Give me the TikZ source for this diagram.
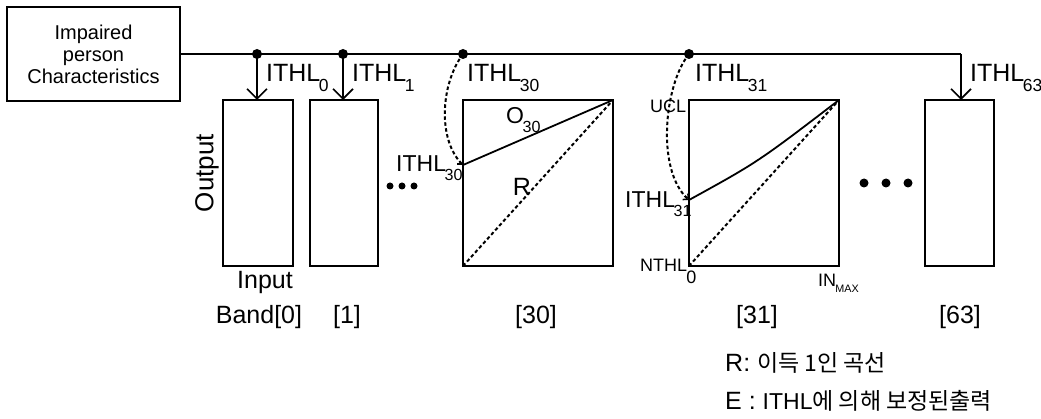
\documentclass[tikz,border=0pt]{standalone}
\usepackage{fontspec}
\usepackage{graphicx}
\setmainfont{Liberation Sans}
\newfontfamily\krfont{Noto Sans CJK KR}
\usetikzlibrary{arrows.meta}
\newcommand\fs[1]{\fontsize{#1}{#1}\selectfont}
\newcommand\lsub[1]{\kern-0.06em\raisebox{-0.38em}{\scalebox{0.7}{#1}}}
\begin{document}
\begin{tikzpicture}[x=1pt,y=-1pt,
  box/.style={draw, line width=1.6pt, inner sep=0pt, outer sep=0pt, anchor=north west, minimum height=166pt},
  wire/.style={line width=1.6pt},
  arr/.style={line width=1.6pt, -{Straight Barb[length=10pt,width=20pt,line width=1.6pt]}},
  dcurve/.style={line width=2pt, dash pattern=on 3.5pt off 2.5pt, -{Straight Barb[length=4pt,width=8pt,line width=1.5pt]}},
  dline/.style={line width=2pt, dash pattern=on 3.5pt off 2.5pt},
  jdot/.style={circle, fill, inner sep=0pt, minimum size=10pt},
  sdot/.style={circle, fill, inner sep=0pt, minimum size=7pt},
  bdot/.style={circle, fill, inner sep=0pt, minimum size=9pt},
  lbl/.style={inner sep=0pt, font=\fs{25}},
  slbl/.style={inner sep=0pt, font=\fs{23}},
  tlbl/.style={inner sep=0pt, font=\fs{18}}
]
\useasboundingbox (0,0) rectangle (1041,419);

% source box
\node[draw, line width=1.6pt, minimum width=173pt, minimum height=94pt, align=center, font=\fs{20}, inner sep=0pt] (imp) at (93.5,54) {Impaired\\[2pt]person\\[2pt]Characteristics};

% band boxes
\node[box, minimum width=70pt] (b0) at (223,100) {};
\node[box, minimum width=68pt] (b1) at (310,100) {};
\node[box, minimum width=150pt] (b30) at (463,100) {};
\node[box, minimum width=150pt] (b31) at (689,100) {};
\node[box, minimum width=69pt] (b63) at (925,100) {};

% junctions
\node[jdot] (j0) at (257,54) {};
\node[jdot] (j1) at (343,54) {};
\node[jdot] (j30) at (463,54) {};
\node[jdot] (j31) at (689,54) {};
\coordinate (c63) at (961,54);

\draw[wire] (imp.east) -- (c63);
\draw[arr] (c63) -- (c63 |- b63.north);
\draw[arr] (j0.center) -- (j0 |- b0.north);
\draw[arr] (j1.center) -- (j1 |- b1.north);

% curves inside boxes
\coordinate (o30s) at (463,165);
\coordinate (o31s) at (689,200);
\draw[line width=1.8pt] (o30s) -- (b30.north east);
\draw[dline] (b30.south west) -- (b30.north east);
\draw[line width=1.8pt] (o31s) .. controls (758,162) .. (b31.north east);
\draw[dline] (b31.south west) -- (b31.north east);

% dashed curved arrows
\draw[dcurve] (j30.center) .. controls (440,85) and (438,140) .. (o30s);
\draw[dcurve] (j31.center) .. controls (664,85) and (656,170) .. (o31s);

% top labels
\node[lbl, anchor=base west] (t0) at (266,82) {ITHL\lsub{0}};
\node[lbl, anchor=base west] (t1) at (352,82) {ITHL\lsub{1}};
\node[lbl, anchor=base west] (t30) at (467,82) {ITHL\lsub{30}};
\node[lbl, anchor=base west] (t31) at (695,82) {ITHL\lsub{31}};
\node[lbl, anchor=base west] (t63) at (970,82) {ITHL\lsub{63}};

% axis labels
\node[font=\fs{26}, rotate=90, inner sep=0pt] (out) at (207,173) {Output};
\node[font=\fs{25}, inner sep=0pt] (inp) at (265,282) {Input};

% small dots
\node[sdot] (d1) at (390,186) {};
\node[sdot] (d2) at (402,186) {};
\node[sdot] (d3) at (414,186) {};
\node[bdot] (e1) at (864,183) {};
\node[bdot] (e2) at (886,183) {};
\node[bdot] (e3) at (908,183) {};

% box 30 labels
\node[slbl, anchor=base west] (l30) at (396,172) {ITHL\lsub{30}};
\node[inner sep=0pt, font=\fs{23}, anchor=base west] (o30) at (506,124) {O\lsub{30}};
\node[inner sep=0pt, font=\fs{25}] (rl) at (522,187) {R};

% box 31 labels
\node[tlbl, anchor=base west] (ucl) at (650,113) {UCL};
\node[slbl, anchor=base west] (l31) at (625,208) {ITHL\lsub{31}};
\node[tlbl, anchor=base west] (nthl) at (640,272) {NTHL\kern-0.05em\raisebox{-0.65em}{0}};
\node[tlbl, anchor=base west] (inmax) at (818,287) {IN\kern-0.04em\raisebox{-0.3em}{\scalebox{0.6}{MAX}}};

% band numbers
\node[lbl] (n0) at (259,317) {Band[0]};
\node[lbl] (n1) at (347,317) {[1]};
\node[lbl] (n30) at (536,317) {[30]};
\node[lbl] (n31) at (757,317) {[31]};
\node[lbl] (n63) at (960,317) {[63]};

% legend
\node[lbl, anchor=west] (legR) at (725,363) {R: {\krfont\fs{23}이득 1인 곡선}};
\node[lbl, anchor=west] (legE) at (725,401) {E : {\fs{23}ITHL\krfont 에 의해 보정된출력}};
\end{tikzpicture}
\end{document}
